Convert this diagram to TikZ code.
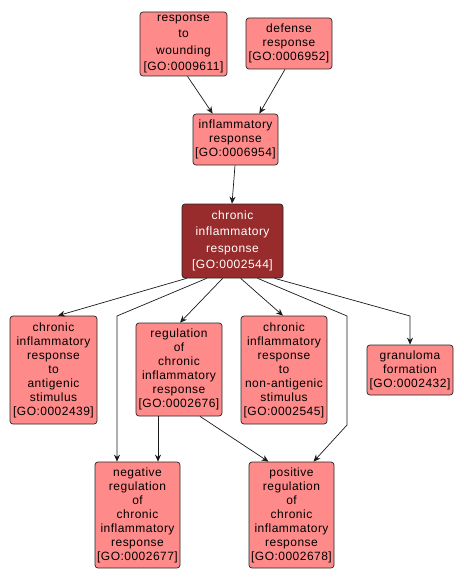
\documentclass[tikz,border=0pt]{standalone}
\usepackage{fontspec}
\setmainfont{Liberation Sans}[LetterSpace=4]
\usetikzlibrary{arrows.meta,calc}
\definecolor{termred}{RGB}{255,138,138}
\definecolor{termdark}{RGB}{152,44,44}

\begin{document}
\begin{tikzpicture}[x=1pt, y=-1pt, >={Stealth[length=7pt,width=6pt]}, font=\fontsize{12}{14}\selectfont,
  term/.style={draw=black!85, rounded corners=3pt, fill=termred, align=center, inner sep=0pt, line width=0.7pt},
  wide/.style={font=\fontsize{12}{16.3}\selectfont},
  edge/.style={->, draw=black!90, line width=0.7pt}]
\useasboundingbox (0,0) rectangle (463,583);
% terms
\node[term, wide, minimum width=87pt, minimum height=64pt] (wound) at (183.5,44) {response\\to\\wounding\\{[GO:0009611]}};
\node[term, minimum width=86pt, minimum height=51pt] (defense) at (289,43.5) {defense\\response\\{[GO:0006952]}};
\node[term, minimum width=85pt, minimum height=51pt] (inflam) at (235.5,139.5) {inflammatory\\response\\{[GO:0006954]}};
\node[term, wide, fill=termdark, text=white, minimum width=101pt, minimum height=74pt] (chronic) at (232.5,241) {chronic\\inflammatory\\response\\{[GO:0002544]}};
\node[term, minimum width=87pt, minimum height=108pt] (antigen) at (53.5,370) {chronic\\inflammatory\\response\\to\\antigenic\\stimulus\\{[GO:0002439]}};
\node[term, minimum width=86pt, minimum height=93pt] (regul) at (179,369.5) {regulation\\of\\chronic\\inflammatory\\response\\{[GO:0002676]}};
\node[term, minimum width=86pt, minimum height=108pt] (nonantigen) at (284,370) {chronic\\inflammatory\\response\\to\\non-antigenic\\stimulus\\{[GO:0002545]}};
\node[term, minimum width=86pt, minimum height=50pt] (granuloma) at (410,370) {granuloma\\formation\\{[GO:0002432]}};
\node[term, minimum width=85pt, minimum height=106pt] (negreg) at (137.5,515) {negative\\regulation\\of\\chronic\\inflammatory\\response\\{[GO:0002677]}};
\node[term, minimum width=85pt, minimum height=106pt] (posreg) at (291.5,515) {positive\\regulation\\of\\chronic\\inflammatory\\response\\{[GO:0002678]}};
% bends
\coordinate (bendneg) at (117,316);
\coordinate (bendpos) at (347,316);
\coordinate (bendpos2) at (347,425);
\coordinate (bendgran) at (410,316);
% edges
\draw[edge] ($(wound.south)+(4,0)$) -- ($(inflam.north west)+(20,0)$);
\draw[edge] ($(defense.south)+(-4,0)$) -- ($(inflam.north east)+(-19,0)$);
\draw[edge] ($(inflam.south)+(-0.5,0)$) -- ($(chronic.north)+(-0.5,0)$);
\draw[edge] ($(chronic.south west)+(5,0)$) -- ($(antigen.north)+(4.5,0)$);
\draw[edge] ($(chronic.south west)+(25,0)$) -- (bendneg) -- (bendneg |- negreg.north);
\draw[edge] ($(chronic.south west)+(41,0)$) -- ($(regul.north)+(1,0)$);
\draw[edge] ($(chronic.south west)+(59,0)$) -- ($(nonantigen.north)+(-1,0)$);
\draw[edge] ($(chronic.south west)+(76,0)$) -- (bendpos) -- (bendpos2) -- ($(posreg.north)+(22,0)$);
\draw[edge] ($(chronic.south west)+(93,0)$) -- (bendgran) -- (granuloma.north);
\draw[edge] ($(regul.south)+(-21,0)$) -- ($(negreg.north)+(20.5,0)$);
\draw[edge] ($(regul.south)+(21,0)$) -- ($(posreg.north)+(-23,0)$);
\end{tikzpicture}
\end{document}
